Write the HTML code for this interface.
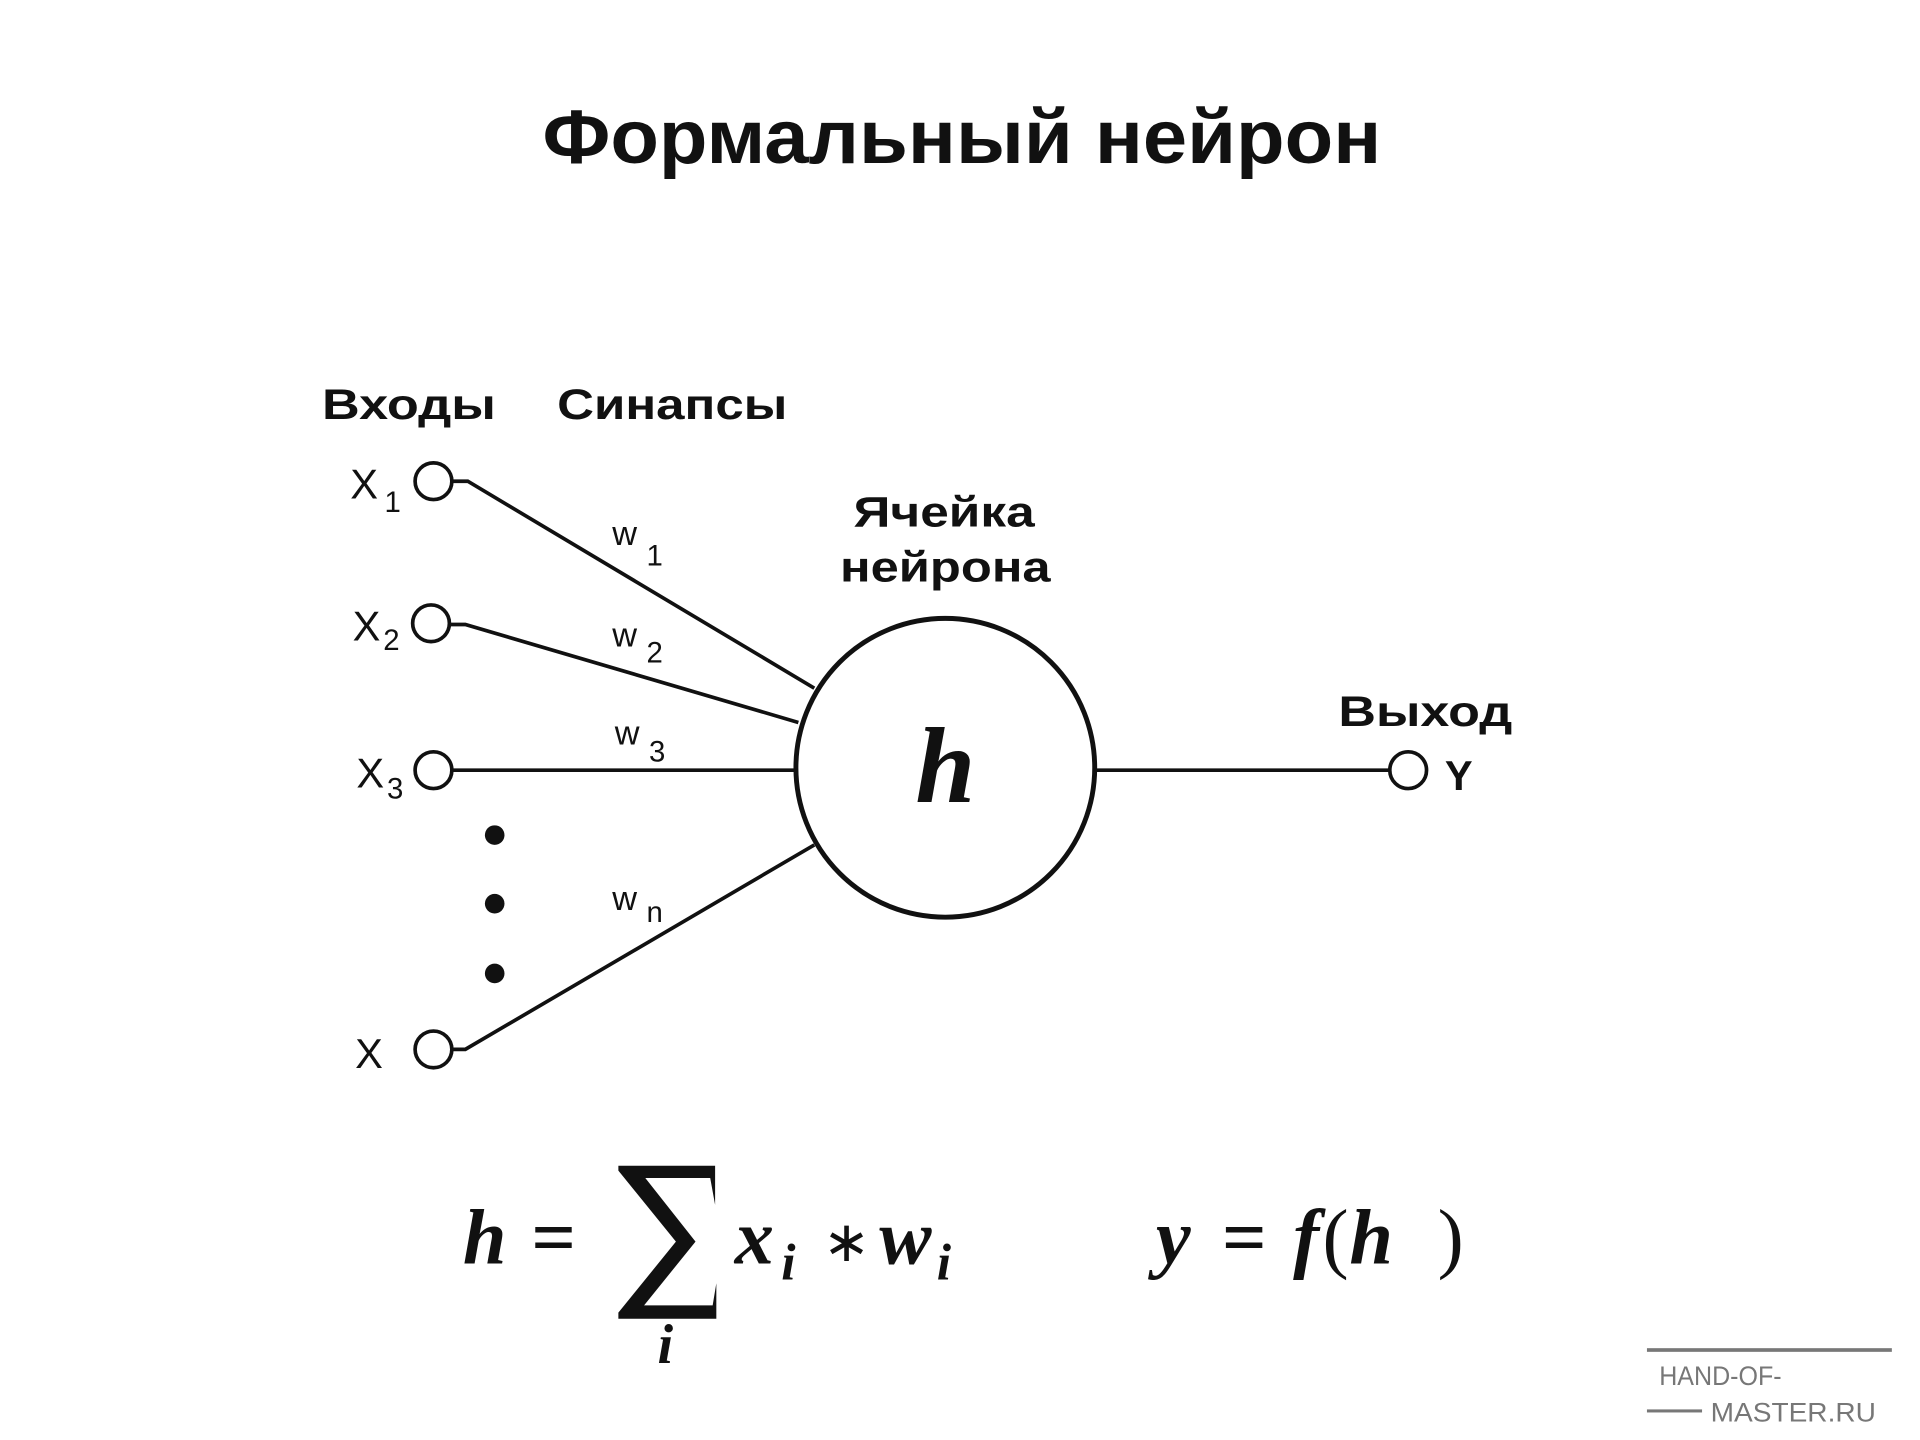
<!DOCTYPE html>
<html><head><meta charset="utf-8"><style>
html,body{margin:0;padding:0;background:#fff;}
svg{display:block}
</style></head><body>
<svg width="1920" height="1440" viewBox="0 0 1920 1440" xmlns="http://www.w3.org/2000/svg">
<rect width="1920" height="1440" fill="#fff"/>
<g transform="scale(1.2245)">
<text x="443" y="133" textLength="685" lengthAdjust="spacingAndGlyphs" font-family="Liberation Sans, sans-serif" font-weight="bold" font-size="62" fill="#111">Формальный нейрон</text>
<g font-family="Liberation Sans, sans-serif" font-weight="bold" font-size="35" fill="#111" lengthAdjust="spacingAndGlyphs">
<text x="263" y="342" textLength="142" lengthAdjust="spacingAndGlyphs">Входы</text>
<text x="455" y="342" textLength="188" lengthAdjust="spacingAndGlyphs">Синапсы</text>
<text x="697" y="430" textLength="148" lengthAdjust="spacingAndGlyphs">Ячейка</text>
<text x="686" y="475" textLength="172" lengthAdjust="spacingAndGlyphs">нейрона</text>
<text x="1093" y="593" textLength="142" lengthAdjust="spacingAndGlyphs">Выход</text>
<text x="1180" y="645" font-size="34">Y</text>
</g>
<g font-family="Liberation Sans, sans-serif" font-size="34" fill="#111">
<text x="286" y="407">X</text><text x="314" y="418" font-size="24">1</text>
<text x="288" y="523">X</text><text x="313" y="531" font-size="24">2</text>
<text x="291" y="643">X</text><text x="316" y="652" font-size="24">3</text>
<text x="290" y="872">X</text>
<g font-size="28">
<text x="500" y="445">w</text><text x="528" y="462" font-size="24">1</text>
<text x="500" y="528">w</text><text x="528" y="541" font-size="24">2</text>
<text x="502" y="608">w</text><text x="530" y="622" font-size="24">3</text>
<text x="500" y="743">w</text><text x="528" y="753" font-size="24">n</text>
</g>
</g>
<g stroke="#111" stroke-width="3" fill="none">
<circle cx="354" cy="393" r="15"/>
<circle cx="352" cy="509" r="15"/>
<circle cx="354" cy="629" r="15"/>
<circle cx="354" cy="857" r="15"/>
<circle cx="1150" cy="629" r="15"/>
<circle cx="772" cy="627" r="122" stroke-width="4"/>
<polyline points="369,393 382,393 665,562"/>
<polyline points="367,510 380,510 652,590"/>
<line x1="369" y1="629" x2="650" y2="629"/>
<polyline points="369,857 380,857 665,690"/>
<line x1="894" y1="629" x2="1135" y2="629"/>
</g>
<g fill="#111">
<circle cx="404" cy="682" r="8"/>
<circle cx="404" cy="738" r="8"/>
<circle cx="404" cy="795" r="8"/>
</g>
<text x="772" y="655" text-anchor="middle" font-family="Liberation Serif, serif" font-style="italic" font-weight="bold" font-size="88" fill="#111">h</text>
<g font-family="Liberation Serif, serif" font-style="italic" font-weight="bold" font-size="64" fill="#111">
<text x="378" y="1032">h</text>
<text x="434" y="1032" font-style="normal">=</text>
<text x="600" y="1032">x</text><text x="638" y="1045" font-size="42">i</text>
<text x="672" y="1030" font-style="normal" font-weight="normal" font-size="46">∗</text>
<text x="718" y="1032">w</text><text x="765" y="1045" font-size="42">i</text>
<text x="537" y="1113" font-size="46">i</text>
<text x="944" y="1032">y</text>
<text x="998" y="1032" font-style="normal">=</text>
<text x="1056" y="1032">f</text>
<text x="1080" y="1032" font-style="normal" font-weight="normal">(</text>
<text x="1102" y="1032">h</text>
<text x="1174" y="1032" font-style="normal" font-weight="normal">)</text>
</g>
<path d="M505,952 L584,952 L584,984 L580,962 L527,962 L568,1014 L526,1066 L582,1066 L585,1048 L585,1077 L505,1077 L505,1072 L552,1014 L505,956 Z" fill="#111"/>
<g fill="#777" font-family="Liberation Sans, sans-serif" font-size="22">
<rect x="1345" y="1101" width="200" height="3"/>
<rect x="1345" y="1151" width="45" height="2.5"/>
<text x="1355" y="1131" textLength="100" lengthAdjust="spacingAndGlyphs">HAND-OF-</text>
<text x="1397" y="1161" textLength="135" lengthAdjust="spacingAndGlyphs">MASTER.RU</text>
</g>
</g>
</svg>
</body></html>
